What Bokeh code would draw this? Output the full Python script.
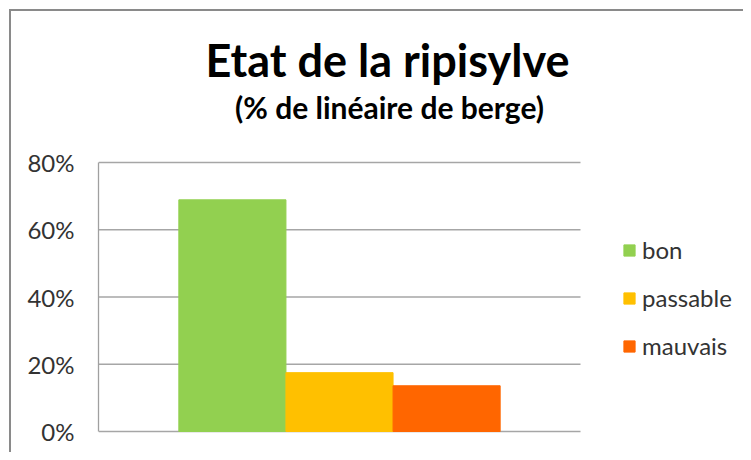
import numpy as np
from bokeh.plotting import figure
from bokeh.models import (Range1d, FixedTicker, NumeralTickFormatter,
                          Legend, LegendItem, Label, ColumnDataSource)
from bokeh.embed import file_html
from bokeh.resources import INLINE

categories = ["bon", "passable", "mauvais"]
values = [0.689, 0.175, 0.136]
colors = ["#92D050", "#FFC000", "#FF6600"]
y_ticks = [0, 0.2, 0.4, 0.6, 0.8]
title_text = "Etat de la ripisylve"
subtitle_text = "(% de linéaire de berge)"

FONT = "Lato"
W, H = 743, 452
# plot-area box in canvas pixels
PL, PR, PT, PB = 98, 580, 162, 431
GAP = 0.75  # Excel gap width 150% of one bar

bar_x = np.arange(len(categories), dtype=float)
x0 = bar_x[0] - 0.5 - GAP
x1 = bar_x[-1] + 0.5 + GAP
xppu = (PR - PL) / (x1 - x0)
y0, y1 = y_ticks[0], y_ticks[-1]
yppu = (PB - PT) / (y1 - y0)

p = figure(width=W, height=H, output_backend="svg", toolbar_location=None,
           x_range=Range1d(x0, x0 + (W - PL) / xppu),
           y_range=Range1d(y0 - (H - PB) / yppu, y1 + PT / yppu),
           min_border_left=PL, min_border_right=0, min_border_top=0,
           min_border_bottom=0, title=None)
p.styles = {
    "background": ("linear-gradient(#8a8a8a,#8a8a8a) 9px 9px / 2px 100% no-repeat, "
                   "linear-gradient(#8a8a8a,#8a8a8a) 9px 9px / 100% 2px no-repeat, white"),
}
p.outline_line_color = None
p.background_fill_color = None
p.border_fill_color = None

# horizontal gridlines across the plot area only
p.segment(x0=[x0] * len(y_ticks), x1=[x1] * len(y_ticks), y0=y_ticks, y1=y_ticks,
          line_color="#a6a6a6", line_width=1.3)

src = ColumnDataSource(dict(x=bar_x, val=values, color=colors, cat=categories))
r = p.vbar(x="x", top="val", width=1.0, color="color", source=src)

p.xaxis.visible = False
p.xgrid.visible = False
p.ygrid.visible = False
p.yaxis.bounds = (y0, y1)
p.yaxis.ticker = FixedTicker(ticks=y_ticks)
p.yaxis.formatter = NumeralTickFormatter(format="0%")
p.yaxis.major_tick_line_color = None
p.yaxis.minor_tick_line_color = None
p.yaxis.major_tick_out = 0
p.yaxis.major_tick_in = 0
p.yaxis.major_label_standoff = 24
p.yaxis.axis_line_color = "#a0a0a0"
p.yaxis.axis_line_width = 1.3
p.yaxis.major_label_text_font = FONT
p.yaxis.major_label_text_font_size = "24px"
p.yaxis.major_label_text_color = "#333333"

legend = Legend(items=[LegendItem(label=c, renderers=[r], index=i) for i, c in enumerate(categories)],
                location=(524, 92), orientation="vertical",
                glyph_width=14, glyph_height=14, label_height=20, spacing=19,
                label_standoff=6, padding=0, margin=0,
                border_line_color=None, background_fill_alpha=0,
                label_text_font=FONT, label_text_font_size="24px",
                label_text_color="#333333")
p.add_layout(legend, "center")

p.add_layout(Label(x=387 - PL, y=H - 75 + 16, x_units="screen", y_units="screen",
                   text=title_text, text_align="center", text_baseline="alphabetic",
                   text_font=FONT, text_font_size="45px", text_font_style="bold",
                   text_color="black"))
p.add_layout(Label(x=389 - PL, y=H - 120 + 14, x_units="screen", y_units="screen",
                   text=subtitle_text, text_align="center", text_baseline="alphabetic",
                   text_font=FONT, text_font_size="30px", text_font_style="bold",
                   text_color="black"))

open("out.html", "w").write(file_html(p, INLINE))
